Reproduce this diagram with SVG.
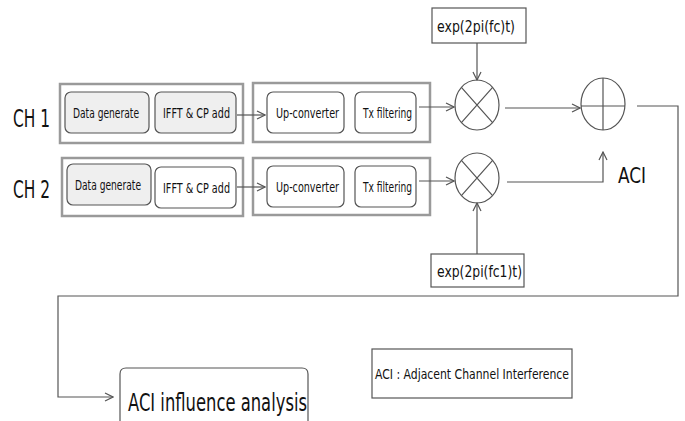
<svg xmlns="http://www.w3.org/2000/svg" width="685" height="421" viewBox="0 0 685 421">
<defs>
<style>
.grp{fill:none;stroke:#9a9a9a;stroke-width:2.5}
.blk{stroke:#555;stroke-width:1.2}
.g{fill:#efefef}
.w{fill:#fff}
.t{font-family:"Liberation Sans Narrow","DejaVu Sans Condensed","Liberation Sans",sans-serif;fill:#111}
.s{font-size:14.5px}
.c{fill:none;stroke:#555;stroke-width:1.2}
.box{fill:#fff;stroke:#555;stroke-width:1.2}
</style>
<marker id="a" markerWidth="10" markerHeight="10" refX="9" refY="5" orient="auto" markerUnits="userSpaceOnUse">
<path d="M1,1 L9,5 L1,9" fill="none" stroke="#555" stroke-width="1.2"/>
</marker>
</defs>
<rect width="685" height="421" fill="#fff"/>
<text class="t" x="13" y="127" font-size="25" textLength="37" lengthAdjust="spacingAndGlyphs">CH 1</text>
<text class="t" x="13" y="198" font-size="25" textLength="37" lengthAdjust="spacingAndGlyphs">CH 2</text>
<g id="ch1-tx">
<rect class="grp" x="60" y="84" width="183" height="59"/>
<rect class="blk g" x="65" y="92" width="84" height="41" rx="6"/>
<text class="t s" x="73" y="118" textLength="66" lengthAdjust="spacingAndGlyphs">Data generate</text>
<rect class="blk g" x="155" y="92" width="81" height="41" rx="6"/>
<text class="t s" x="163" y="118" textLength="67" lengthAdjust="spacingAndGlyphs">IFFT &amp; CP add</text>
</g>
<g id="ch1-rf">
<rect class="grp" x="253" y="83" width="177" height="59"/>
<rect class="blk w" x="267" y="92" width="77" height="41" rx="6"/>
<text class="t s" x="276" y="118" textLength="63" lengthAdjust="spacingAndGlyphs">Up-converter</text>
<rect class="blk w" x="355" y="92" width="61" height="41" rx="6"/>
<text class="t s" x="363" y="118" textLength="49" lengthAdjust="spacingAndGlyphs">Tx filtering</text>
</g>
<g id="ch2-tx">
<rect class="grp" x="62" y="158" width="181" height="58"/>
<rect class="blk g" x="67" y="164" width="84" height="41" rx="6"/>
<text class="t s" x="75" y="190" textLength="66" lengthAdjust="spacingAndGlyphs">Data generate</text>
<rect class="blk w" x="155" y="167" width="81" height="41" rx="6"/>
<text class="t s" x="163" y="193" textLength="67" lengthAdjust="spacingAndGlyphs">IFFT &amp; CP add</text>
</g>
<g id="ch2-rf">
<rect class="grp" x="253" y="158" width="177" height="57"/>
<rect class="blk w" x="267" y="166" width="77" height="41" rx="6"/>
<text class="t s" x="276" y="192" textLength="63" lengthAdjust="spacingAndGlyphs">Up-converter</text>
<rect class="blk w" x="355" y="166" width="61" height="41" rx="6"/>
<text class="t s" x="363" y="192" textLength="49" lengthAdjust="spacingAndGlyphs">Tx filtering</text>
</g>
<g id="osc1">
<rect class="box" x="432" y="8" width="94" height="35"/>
<text class="t" x="437" y="32" font-size="16" textLength="78" lengthAdjust="spacingAndGlyphs">exp(2pi(fc)t)</text>
</g>
<g id="osc2">
<rect class="box" x="431" y="254" width="93" height="33"/>
<text class="t" x="437" y="277" font-size="16" textLength="85" lengthAdjust="spacingAndGlyphs">exp(2pi(fc1)t)</text>
</g>
<g id="mixer1">
<ellipse class="c" cx="477" cy="105" rx="22" ry="25"/>
<path class="c" d="M461.4,87.3 L492.6,122.7 M492.6,87.3 L461.4,122.7"/>
</g>
<g id="mixer2">
<ellipse class="c" cx="477" cy="178" rx="22" ry="25"/>
<path class="c" d="M461.4,160.3 L492.6,195.7 M492.6,160.3 L461.4,195.7"/>
</g>
<g id="adder">
<ellipse class="c" cx="603" cy="104" rx="22" ry="26"/>
<path class="c" d="M581,106 L625,106 M603,78 L603,130"/>
</g>
<text class="t" x="618" y="183" font-size="22" textLength="28" lengthAdjust="spacingAndGlyphs">ACI</text>
<g id="analysis">
<path class="c" d="M120,421 L120,374 Q120,368 126,368 L302,368 Q308,368 308,374 L308,421"/>
<text class="t" x="128" y="411" font-size="25" textLength="179" lengthAdjust="spacingAndGlyphs">ACI influence analysis</text>
</g>
<g id="legend">
<rect class="box" x="372" y="349" width="200" height="49"/>
<text class="t" x="375" y="379" font-size="14" textLength="194" lengthAdjust="spacingAndGlyphs">ACI : Adjacent Channel Interference</text>
</g>
<g id="connectors">
<path class="c" d="M237,115 L265,115" marker-end="url(#a)"/>
<path class="c" d="M237,187 L265,187" marker-end="url(#a)"/>
<path class="c" d="M419,107 L454,107" marker-end="url(#a)"/>
<path class="c" d="M419,181 L454,181" marker-end="url(#a)"/>
<path class="c" d="M477,43 L477,80" marker-end="url(#a)"/>
<path class="c" d="M477,254 L477,203" marker-end="url(#a)"/>
<path class="c" d="M505,108 L580,108" marker-end="url(#a)"/>
<path class="c" d="M507,182 L603,182 L603,152" marker-end="url(#a)"/>
<path class="c" d="M637,106 L678,106 L678,296 L58,296 L58,397 L113,397" marker-end="url(#a)"/>
</g>
</svg>
